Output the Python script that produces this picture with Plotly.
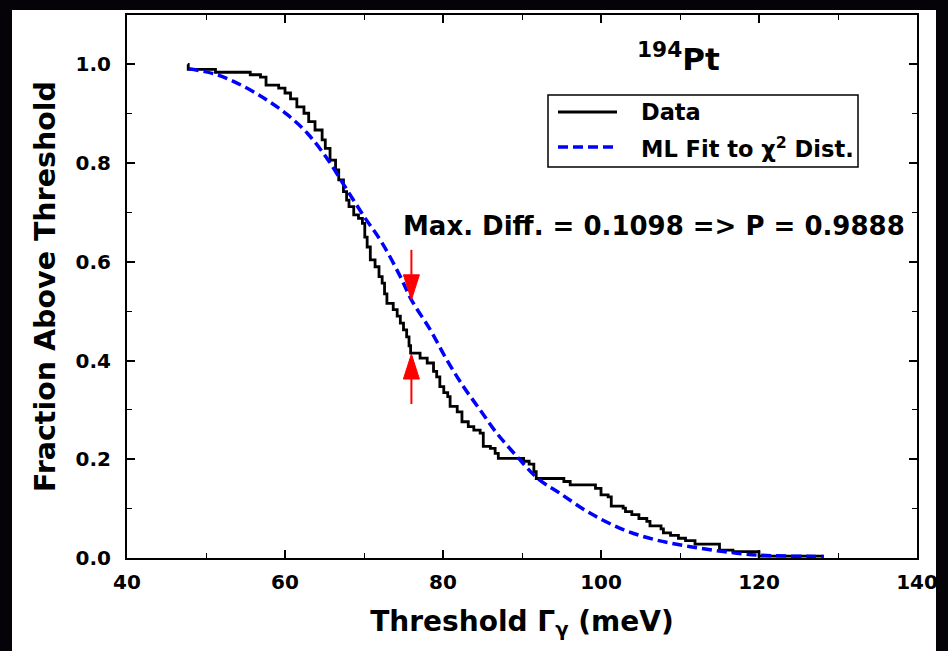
import plotly.graph_objects as go

# ---------------- data ----------------
data_x = [47.7, 47.75, 51.2, 55.6, 56.9, 57.6, 59.2, 60.0, 60.7, 61.5, 62.4, 63.0, 63.8,
          64.7, 65.1, 65.7, 66.4, 66.8, 67.4, 67.8, 68.1, 68.7, 69.3, 69.8, 70.1, 70.4,
          70.8, 71.4, 71.9, 72.3, 72.6, 72.9, 73.7, 74.2, 74.6, 75.0, 75.4, 75.7, 75.9,
          77.1, 78.0, 78.8, 79.2, 79.6, 80.1, 80.6, 80.9, 81.8, 82.4, 83.2, 83.9, 84.7,
          85.1, 86.0, 86.6, 87.0, 90.2, 90.9, 91.5, 91.8, 95.3, 96.1, 99.3, 100.0, 100.9,
          101.3, 102.8, 103.1, 103.9, 104.8, 105.8, 106.2, 107.6, 107.9, 108.8, 109.8,
          110.7, 111.9, 115.0, 116.7, 120.0, 128.2]
data_y = [1.000, 0.990, 0.984, 0.979, 0.974, 0.958, 0.952, 0.942, 0.930, 0.914, 0.901, 0.884,
          0.867, 0.847, 0.830, 0.806, 0.786, 0.766, 0.742, 0.725, 0.712, 0.695, 0.688, 0.678,
          0.650, 0.630, 0.604, 0.590, 0.570, 0.557, 0.535, 0.516, 0.503, 0.490, 0.476, 0.462,
          0.448, 0.430, 0.415, 0.405, 0.395, 0.378, 0.367, 0.347, 0.335, 0.327, 0.307, 0.296,
          0.276, 0.266, 0.259, 0.253, 0.226, 0.222, 0.212, 0.202, 0.196, 0.190, 0.175, 0.161,
          0.155, 0.148, 0.141, 0.128, 0.124, 0.105, 0.101, 0.094, 0.088, 0.080, 0.074, 0.065,
          0.059, 0.051, 0.046, 0.040, 0.035, 0.028, 0.016, 0.013, 0.004, 0.004]

fit_x = [47.8, 51.4, 54.8, 57.7, 60.3, 62.8, 65.3, 67.6, 70.0, 72.3, 74.6, 76.0, 78.4,
         80.5, 82.6, 84.7, 86.8, 89.4, 92.0, 94.8, 98.6, 102.9, 107.1, 111.3, 115.5,
         119.7, 128.2]
fit_y = [0.991, 0.979, 0.955, 0.928, 0.898, 0.861, 0.810, 0.752, 0.692, 0.638, 0.570,
         0.523, 0.462, 0.401, 0.347, 0.300, 0.253, 0.205, 0.161, 0.131, 0.091, 0.057,
         0.036, 0.023, 0.013, 0.006, 0.003]

max_diff_x = 76.0
fit_at_max = 0.523
data_at_max = 0.4132
max_diff_text = "Max. Diff. = 0.1098 => P = 0.9888"

x_range = [40, 140]
y_range = [0, 1.1]
x_ticks = [40, 60, 80, 100, 120, 140]
y_ticks = [0.0, 0.2, 0.4, 0.6, 0.8, 1.0]

series_names = ["Data", "ML Fit to \u03c7<sup>2</sup> Dist."]

# ---------------- layout constants ----------------
W, H = 948, 651
ML, MR, MT, MB = 127, 31, 15, 93
plot_w = W - ML - MR
plot_h = H - MT - MB
FONT = "DejaVu Sans"
BLUE = "#0000ff"
RED = "#ff0000"

def px_to_xpaper(px):
    return (px - ML) / plot_w

def py_to_ypaper(py):
    return (H - MB - py) / plot_h

fig = go.Figure()

fig.add_trace(go.Scatter(x=data_x, y=data_y, mode="lines", name=series_names[0],
                         line=dict(color="black", width=2.8, shape="hv"),
                         showlegend=False))
fig.add_trace(go.Scatter(x=fit_x, y=fit_y, mode="lines", name=series_names[1],
                         line=dict(color=BLUE, width=3.5, dash="10px,5px", shape="spline",
                                   smoothing=1.0),
                         showlegend=False))

shapes = []
# white page area inside the dark frame
shapes.append(dict(type="rect", xref="paper", yref="paper", layer="below",
                   x0=px_to_xpaper(12), x1=px_to_xpaper(936),
                   y0=py_to_ypaper(H + 20), y1=py_to_ypaper(10),
                   fillcolor="white", line=dict(width=0)))

# red arrows marking the maximum difference
x_per_px = (x_range[1] - x_range[0]) / plot_w
y_per_px = (y_range[1] - y_range[0]) / plot_h
head_len = 25 * y_per_px
head_half = 8 * x_per_px
tail_len = 25 * y_per_px
# down arrow onto fit curve
tip = fit_at_max
shapes.append(dict(type="line", xref="x", yref="y", x0=max_diff_x, x1=max_diff_x,
                   y0=tip + head_len, y1=tip + head_len + tail_len,
                   line=dict(color=RED, width=2)))
shapes.append(dict(type="path", xref="x", yref="y",
                   path=f"M {max_diff_x - head_half},{tip + head_len} L {max_diff_x + head_half},{tip + head_len} L {max_diff_x},{tip} Z",
                   fillcolor=RED, line=dict(color=RED, width=1)))
# up arrow onto data curve
tip = data_at_max
shapes.append(dict(type="line", xref="x", yref="y", x0=max_diff_x, x1=max_diff_x,
                   y0=tip - head_len, y1=tip - head_len - tail_len,
                   line=dict(color=RED, width=2)))
shapes.append(dict(type="path", xref="x", yref="y",
                   path=f"M {max_diff_x - head_half},{tip - head_len} L {max_diff_x + head_half},{tip - head_len} L {max_diff_x},{tip} Z",
                   fillcolor=RED, line=dict(color=RED, width=1)))

# manual legend box
shapes.append(dict(type="rect", xref="paper", yref="paper",
                   x0=px_to_xpaper(548), x1=px_to_xpaper(858),
                   y0=py_to_ypaper(167), y1=py_to_ypaper(95),
                   fillcolor="white", line=dict(color="black", width=1.5)))
shapes.append(dict(type="line", xref="paper", yref="paper",
                   x0=px_to_xpaper(558), x1=px_to_xpaper(617),
                   y0=py_to_ypaper(112), y1=py_to_ypaper(112),
                   line=dict(color="black", width=2.8)))
shapes.append(dict(type="line", xref="paper", yref="paper",
                   x0=px_to_xpaper(558), x1=px_to_xpaper(617),
                   y0=py_to_ypaper(147), y1=py_to_ypaper(147),
                   line=dict(color=BLUE, width=3.5, dash="10px,5px")))

annotations = [
    dict(text=series_names[0], xref="paper", yref="paper", x=px_to_xpaper(639),
         y=py_to_ypaper(112), xanchor="left", yanchor="middle", showarrow=False,
         font=dict(family=FONT, size=22.5, color="black", weight="bold")),
    dict(text=series_names[1], xref="paper", yref="paper", x=px_to_xpaper(639),
         y=py_to_ypaper(147), xanchor="left", yanchor="middle", showarrow=False,
         font=dict(family=FONT, size=22.5, color="black", weight="bold")),
    dict(text="<sup>194</sup>Pt", xref="paper", yref="paper", x=px_to_xpaper(678),
         y=py_to_ypaper(57), xanchor="center", yanchor="middle", showarrow=False,
         font=dict(family=FONT, size=31, color="black", weight="bold")),
    dict(text=max_diff_text, xref="paper", yref="paper", x=px_to_xpaper(654),
         y=py_to_ypaper(226), xanchor="center", yanchor="middle", showarrow=False,
         font=dict(family=FONT, size=26, color="black", weight="bold")),
]

axis_common = dict(
    showline=True, linecolor="black", linewidth=2, mirror="ticks",
    ticks="inside", ticklen=8, tickwidth=1.5, tickcolor="black",
    showgrid=False, zeroline=False,
    tickfont=dict(family=FONT, size=20, color="black", weight="bold"),
)

fig.update_layout(
    width=W, height=H,
    margin=dict(l=ML, r=MR, t=MT, b=MB, autoexpand=False),
    paper_bgcolor="#050308", plot_bgcolor="white",
    shapes=shapes, annotations=annotations, showlegend=False,
    xaxis=dict(range=x_range, tickvals=x_ticks, ticktext=[str(v) for v in x_ticks],
               minor=dict(dtick=10, ticklen=5, tickwidth=1.2, ticks="inside", tickcolor="black"),
               ticklabelstandoff=5,
               title=dict(text="Threshold \u0393<sub>\u03b3</sub> (meV)", standoff=18,
                          font=dict(family=FONT, size=28, color="black", weight="bold")),
               **axis_common),
    yaxis=dict(range=y_range, tickvals=y_ticks, ticktext=[f"{v:.1f}" for v in y_ticks],
               minor=dict(dtick=0.1, ticklen=5, tickwidth=1.2, ticks="inside", tickcolor="black"),
               ticklabelstandoff=10,
               title=dict(text="Fraction Above Threshold", standoff=12,
                          font=dict(family=FONT, size=28.5, color="black", weight="bold")),
               **axis_common),
)

fig.write_html("out.html")
